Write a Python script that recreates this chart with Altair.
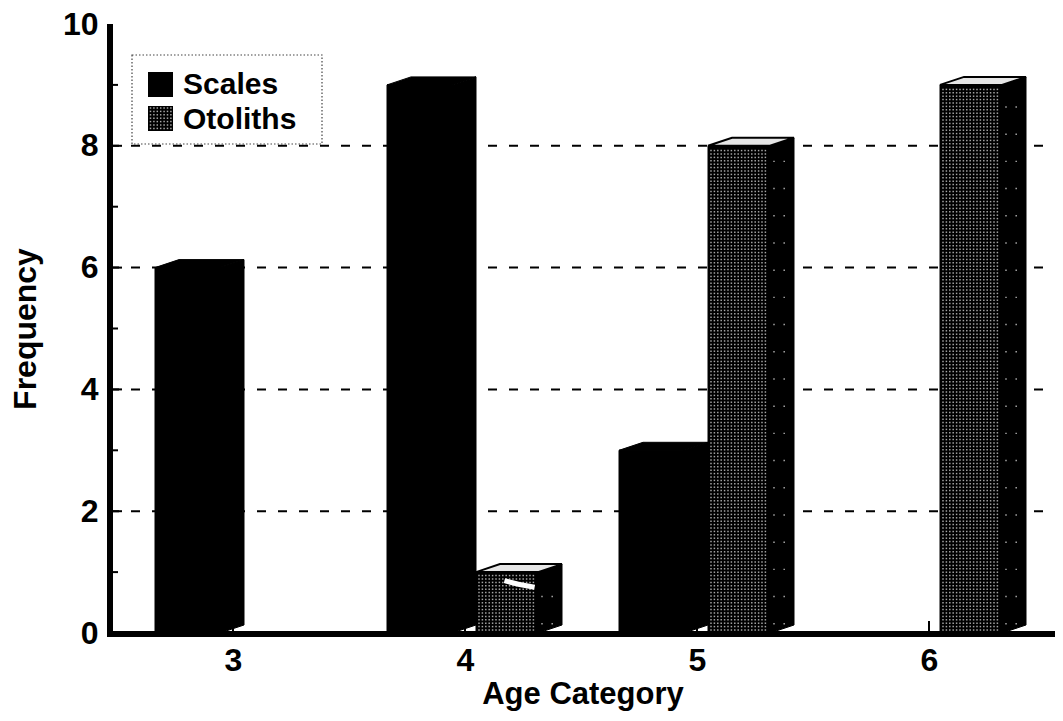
import numpy as np
import pandas as pd
import altair as alt

categories = [3, 4, 5, 6]
scales = [6, 9, 3, 0]
otoliths = [0, 1, 8, 9]
y_ticks = [0, 2, 4, 6, 8, 10]
grid_vals = [2, 4, 6, 8]
minor_vals = [1, 3, 5, 7, 9]

PXX = 232.0
PXY = 60.9
XMIN = 3 - 123 / PXX
W, H = 945, 609
XMAX = XMIN + W / PXX
dx = 24 / PXX
dy = 8 / PXY
FONT = "Liberation Sans"

xs = alt.Scale(domain=[XMIN, XMAX], nice=False, zero=False)
ys = alt.Scale(domain=[0, 10], nice=False)
x_ax = alt.Axis(
    values=categories, title="Age Category", format="d", grid=False, domain=False, ticks=False,
    labelFont=FONT, labelFontWeight="bold", labelFontSize=32, labelColor="black", labelPadding=12,
    titleFont=FONT, titleFontWeight="bold", titleFontSize=31, titleColor="black", titlePadding=3)
y_ax = alt.Axis(
    values=y_ticks, title="Frequency", format="d", grid=False, domain=False, ticks=False,
    labelFont=FONT, labelFontWeight="bold", labelFontSize=32, labelColor="black", labelPadding=12,
    titleFont=FONT, titleFontWeight="bold", titleFontSize=32, titleColor="black", titlePadding=20)
X = lambda f: alt.X(f, type="quantitative", scale=xs, axis=x_ax)
Y = lambda f: alt.Y(f, type="quantitative", scale=ys, axis=y_ax)

front, top, side, dots = [], [], [], []
for name, vals, off, w in [("Scales", scales, -78, 65), ("Otoliths", otoliths, 11, 62)]:
    for c, v in zip(categories, vals):
        if v == 0:
            continue
        x0 = c + off / PXX
        x1 = x0 + w / PXX
        k = f"{name}{c}"
        front.append(dict(k=k, s=name, x=x0, x2=x1, y=0, y2=v))
        for px, lo, hi in [(x0, v, v), (x0 + dx, v, v + dy), (x1, v, v + dy), (x1 + dx, v + dy, v + dy)]:
            top.append(dict(k=k, s=name, x=px, y=hi, y2=lo))
        for px, lo, hi in [(x1, 0, v), (x1 + dx, dy, v + dy)]:
            side.append(dict(k=k, s=name, x=px, y=hi, y2=lo))
        if name == "Otoliths":
            for gx in np.arange(3, w - 3, 3.4):
                for gy in np.arange(3, v * PXY - 2, 3.4):
                    dots.append(dict(x=x0 + gx / PXX, y=gy / PXY))
            for gx in np.arange(4, 20, 10.2):
                for gy in np.arange(8, v * PXY - 2, 27.2):
                    dots.append(dict(x=x1 + gx / PXX, y=gy / PXY + 0.02))

front = pd.DataFrame(front)
top = pd.DataFrame(top)
side = pd.DataFrame(side)
dots = pd.DataFrame(dots)

grid = alt.Chart(pd.DataFrame({"y": grid_vals})).mark_rule(
    color="black", strokeWidth=2, strokeDash=[9, 12]).encode(
    y=Y("y"), x=alt.value(0), x2=alt.value(W))

minor = alt.Chart(pd.DataFrame({"y": minor_vals})).mark_rule(color="black", strokeWidth=2).encode(
    y=Y("y"), x=alt.value(0), x2=alt.value(8))
major = alt.Chart(pd.DataFrame({"y": y_ticks[:-1]})).mark_rule(color="black", strokeWidth=2).encode(
    y=Y("y"), x=alt.value(0), x2=alt.value(12))

front_l = alt.Chart(front).mark_rect(color="black", stroke="black", strokeWidth=1).encode(
    x=X("x"), x2="x2", y=Y("y"), y2="y2")

side_l = alt.Chart(side).mark_area(color="black", stroke="black", strokeWidth=1).encode(
    x=X("x"), y=Y("y"), y2="y2", detail="k:N")

top_sc = alt.Chart(top[top.s == "Scales"]).mark_area(color="black", stroke="black", strokeWidth=1).encode(
    x=X("x"), y=Y("y"), y2="y2", detail="k:N")
top_ot = alt.Chart(top[top.s == "Otoliths"]).mark_area(
    fill="#e6e6e6", stroke="black", strokeWidth=2).encode(
    x=X("x"), y=Y("y"), y2="y2", detail="k:N")

dots_l = alt.Chart(dots).mark_square(size=2.2, color="white", opacity=0.65, strokeWidth=0).encode(
    x=X("x"), y=Y("y"))

blotch = alt.Chart(pd.DataFrame({"x": [4.17, 4.23, 4.30], "y": [0.86, 0.80, 0.75]})).mark_line(
    color="white", strokeWidth=5).encode(x=X("x"), y=Y("y"))

y_axis = alt.Chart(pd.DataFrame({"a": [0]})).mark_rule(color="black", strokeWidth=6).encode(
    x=alt.value(0), y=alt.value(0), y2=alt.value(H + 2))
x_axis = alt.Chart(pd.DataFrame({"a": [0]})).mark_rule(color="black", strokeWidth=6).encode(
    x=alt.value(-3), x2=alt.value(W), y=alt.value(H + 1))
x_tick = alt.Chart(pd.DataFrame({"x": categories})).mark_rule(color="black", strokeWidth=2).encode(
    x=X("x"), y=alt.value(H - 12), y2=alt.value(H))

# legend
box = alt.Chart(pd.DataFrame({"a": [0]})).mark_rect(
    fill="white", stroke="#444444", strokeWidth=1.2, strokeDash=[1.5, 2]).encode(
    x=alt.value(22), x2=alt.value(212), y=alt.value(31), y2=alt.value(120))
leg_sw = alt.Chart(pd.DataFrame({"yy": [48, 82]})).transform_calculate(yb="datum.yy + 25").mark_rect(color="black").encode(
    x=alt.value(38), x2=alt.value(63), y=alt.Y("yy:Q", scale=None), y2=alt.Y2("yb:Q"))
leg_dots = pd.DataFrame([dict(px=40.5 + 3.4 * i, py=84 + 3.4 * j) for i in range(7) for j in range(7)])
leg_d = alt.Chart(leg_dots).mark_square(size=2.2, color="white", opacity=0.65, strokeWidth=0).encode(
    x=alt.X("px:Q", scale=None), y=alt.Y("py:Q", scale=None))
leg_t = alt.Chart(pd.DataFrame({"t": ["Scales", "Otoliths"], "yy": [61, 96]})).mark_text(
    font=FONT, fontWeight="bold", fontSize=30, align="left", baseline="middle", color="black").encode(
    x=alt.value(73), y=alt.Y("yy:Q", scale=None), text="t:N")

chart = alt.layer(
    grid, minor, major, front_l, side_l, top_sc, top_ot, dots_l, blotch, x_tick,
    box, leg_sw, leg_d, leg_t, y_axis, x_axis,
).properties(
    width=W, height=H, autosize=alt.AutoSizeParams(type="none"),
    padding={"left": 102, "top": 16, "right": 0, "bottom": 79},
    background="white",
).configure_view(stroke=None)

chart.save("out.html", embed_options={"renderer": "svg", "actions": False})
